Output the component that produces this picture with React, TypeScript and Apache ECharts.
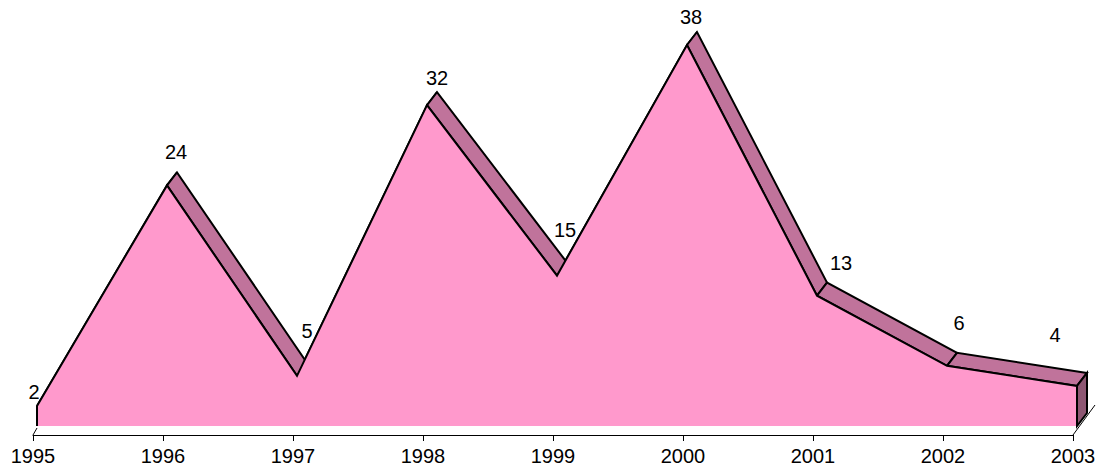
import React, { useEffect, useRef } from "react";
import * as echarts from "echarts";

const years = ["1995", "1996", "1997", "1998", "1999", "2000", "2001", "2002", "2003"];
const values = [2, 24, 5, 32, 15, 38, 13, 6, 4];
// pixel nudges for data labels, relative to the back ridge point
const labelNudge: [number, number][] = [
  [-13, -1], [-1, -20], [0, -32], [0, -14], [-2, -33], [-6, -15], [14, -20], [2, -30], [-32, -38],
];

const FRONT = "#FF99CC";
const TOP = "#C0739B";
const SIDE = "#8E5773";
const DX = 10;
const DY = -13;
const FONT = "'Liberation Sans', Arial, sans-serif";

export default function App() {
  const ref = useRef<HTMLDivElement>(null);
  useEffect(() => {
    if (!ref.current) return;
    const chart = echarts.init(ref.current, undefined, { renderer: "svg" });
    const renderItem = (_params: any, api: any) => {
      const pts = values.map((v, i) => api.coord([i, v]));
      const base = values.map((_v, i) => api.coord([i, 0]));
      const n = values.length;
      const children: any[] = [];
      const rising: any[] = [];
      const falling: any[] = [];
      for (let i = 0; i < n - 1; i++) {
        const a = pts[i];
        const b = pts[i + 1];
        const poly = {
          type: "polygon",
          shape: {
            points: [a, b, [b[0] + DX, b[1] + DY], [a[0] + DX, a[1] + DY]],
          },
          style: { fill: TOP, stroke: "#000", lineWidth: 2, lineJoin: "miter" },
        };
        if (values[i + 1] > values[i]) rising.push(poly);
        else falling.push(poly);
      }
      children.push(...rising, ...falling);
      const last = pts[n - 1];
      const lastBase = base[n - 1];
      children.push({
        type: "polygon",
        shape: {
          points: [last, [last[0] + DX, last[1] + DY], [lastBase[0] + DX, lastBase[1] + DY], lastBase],
        },
        style: { fill: SIDE, stroke: "#000", lineWidth: 2 },
      });
      children.push({
        type: "polygon",
        shape: { points: [base[0], ...pts, base[n - 1]] },
        style: { fill: FRONT, stroke: null },
      });
      children.push({
        type: "polyline",
        shape: { points: [base[0], ...pts, base[n - 1]] },
        style: { fill: null, stroke: "#000", lineWidth: 2, lineJoin: "miter" },
      });
      // floor side edges
      const b0 = base[0];
      const bn = base[n - 1];
      children.push({
        type: "line",
        shape: { x1: b0[0] - 4, y1: b0[1] + 9, x2: b0[0], y2: b0[1] + 2 },
        style: { stroke: "#000", lineWidth: 1 },
      });
      children.push({
        type: "line",
        shape: { x1: bn[0] - 4, y1: bn[1] + 9, x2: bn[0] + 18, y2: bn[1] - 21 },
        style: { stroke: "#000", lineWidth: 1 },
      });
      values.forEach((v, i) => {
        const p = pts[i];
        children.push({
          type: "text",
          x: p[0] + DX + labelNudge[i][0],
          y: p[1] + DY + labelNudge[i][1],
          style: {
            text: String(v),
            fill: "#000",
            font: `20px ${FONT}`,
            textAlign: "center",
            textVerticalAlign: "middle",
          },
        });
      });
      return { type: "group", children };
    };

    chart.setOption({
      animation: false,
      backgroundColor: "#fff",
      grid: [
        { left: 33, right: 26, top: 40, bottom: 38 },
        { left: 37, right: 22, top: 45, bottom: 47 },
      ],
      xAxis: [
        {
          gridIndex: 0,
          type: "category",
          data: years,
          boundaryGap: false,
          axisLine: { lineStyle: { color: "#000", width: 1 } },
          axisTick: { length: 6, lineStyle: { color: "#000", width: 1 } },
          axisLabel: { color: "#000", fontSize: 20, fontFamily: FONT, margin: 11, interval: 0 },
          splitLine: { show: false },
        },
        {
          gridIndex: 1,
          type: "category",
          data: years,
          boundaryGap: false,
          show: false,
        },
      ],
      yAxis: [
        { gridIndex: 0, type: "value", show: false, min: 0, max: 38 },
        { gridIndex: 1, type: "value", show: false, min: 0, max: 38 },
      ],
      series: [
        {
          type: "custom",
          xAxisIndex: 1,
          yAxisIndex: 1,
          data: [[0, 0]],
          renderItem,
          clip: false,
          silent: true,
        },
      ],
    });
    return () => chart.dispose();
  }, []);
  return (
    <div
      ref={ref}
      style={{ position: "fixed", left: 0, top: 0, width: 1099, height: 473, background: "#fff" }}
    />
  );
}
